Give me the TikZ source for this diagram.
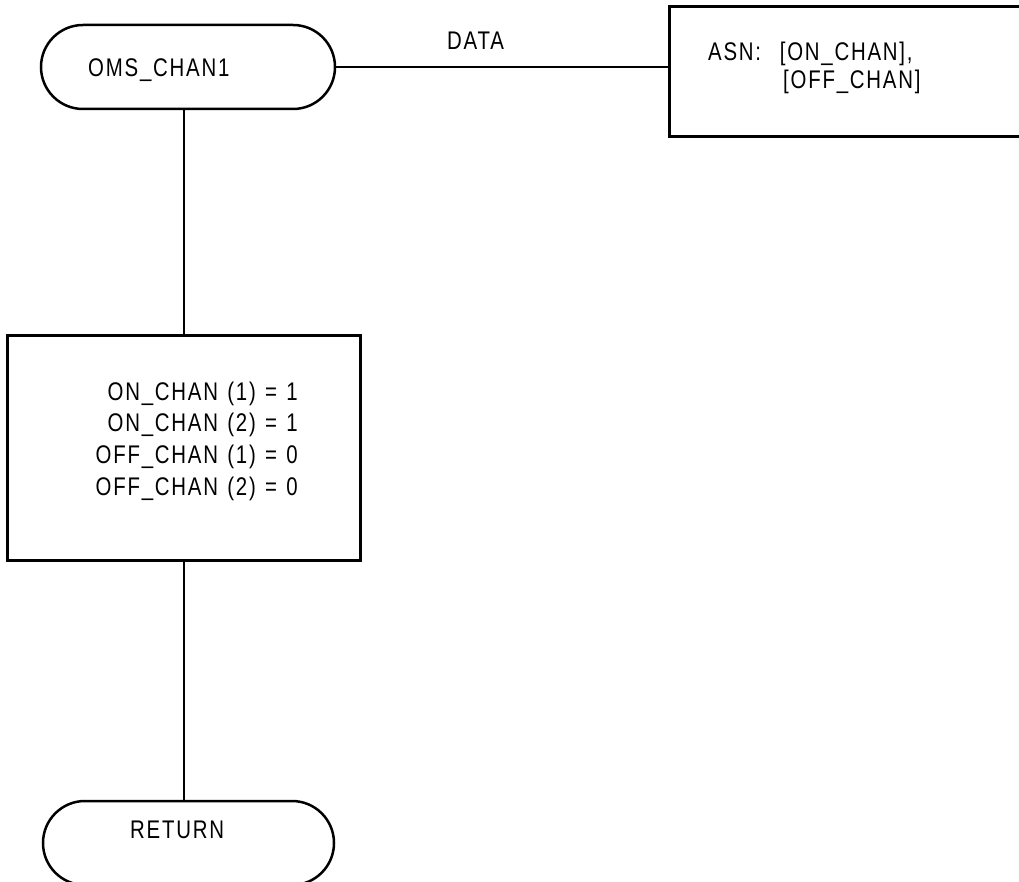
\documentclass[tikz,border=0pt]{standalone}
\usepackage{fontspec}
\setmainfont{Liberation Sans}[LetterSpace=7,FakeStretch=0.8,WordSpace=1.25]
\begin{document}
\begin{tikzpicture}[x=1pt,y=-1pt,
  term/.style={draw, line width=2.5pt, rounded corners=42pt, minimum height=84pt, inner sep=0pt},
  procbox/.style={draw, line width=3pt, inner sep=0pt},
  conn/.style={line width=2pt},
  lbl/.style={inner sep=0pt, font=\fontsize{25.5}{31}\selectfont}]
\useasboundingbox (0,0) rectangle (1019,882);
% shapes
\node[term, minimum width=294pt] (t1) at (188,67) {};
\node[procbox, minimum width=371pt, minimum height=130pt] (asn) at (854.5,72) {};
\node[procbox, minimum width=353pt, minimum height=225pt] (init) at (183.5,447.5) {};
\node[term, minimum width=291pt] (t2) at (188.5,843) {};
% connectors
\draw[conn] (t1.east) -- (t1.east -| asn.west);
\draw[conn] (init.north) -- (init.north |- t1.south);
\draw[conn] (init.south) -- (init.south |- t2.north);
% texts
\node[lbl, anchor=base west] (t1txt) at (88,77) {OMS\_CHAN1};
\node[lbl, anchor=base west] (data) at (447,49.5) {DATA};
\node[lbl, anchor=base west] (asn1) at (708,60.5) {ASN:\ \ [ON\_CHAN],};
\node[lbl, anchor=base west] (asn2) at (783,89) {[OFF\_CHAN]};
\node[lbl, anchor=base east] (l1) at (298,400.5) {ON\_CHAN (1) = 1};
\node[lbl, anchor=base east] (l2) at (298,431.5) {ON\_CHAN (2) = 1};
\node[lbl, anchor=base east] (l3) at (298,463.5) {OFF\_CHAN (1) = 0};
\node[lbl, anchor=base east] (l4) at (298,495.5) {OFF\_CHAN (2) = 0};
\node[lbl, anchor=base west] (rettxt) at (130,838.5) {RETURN};
\end{tikzpicture}
\end{document}
